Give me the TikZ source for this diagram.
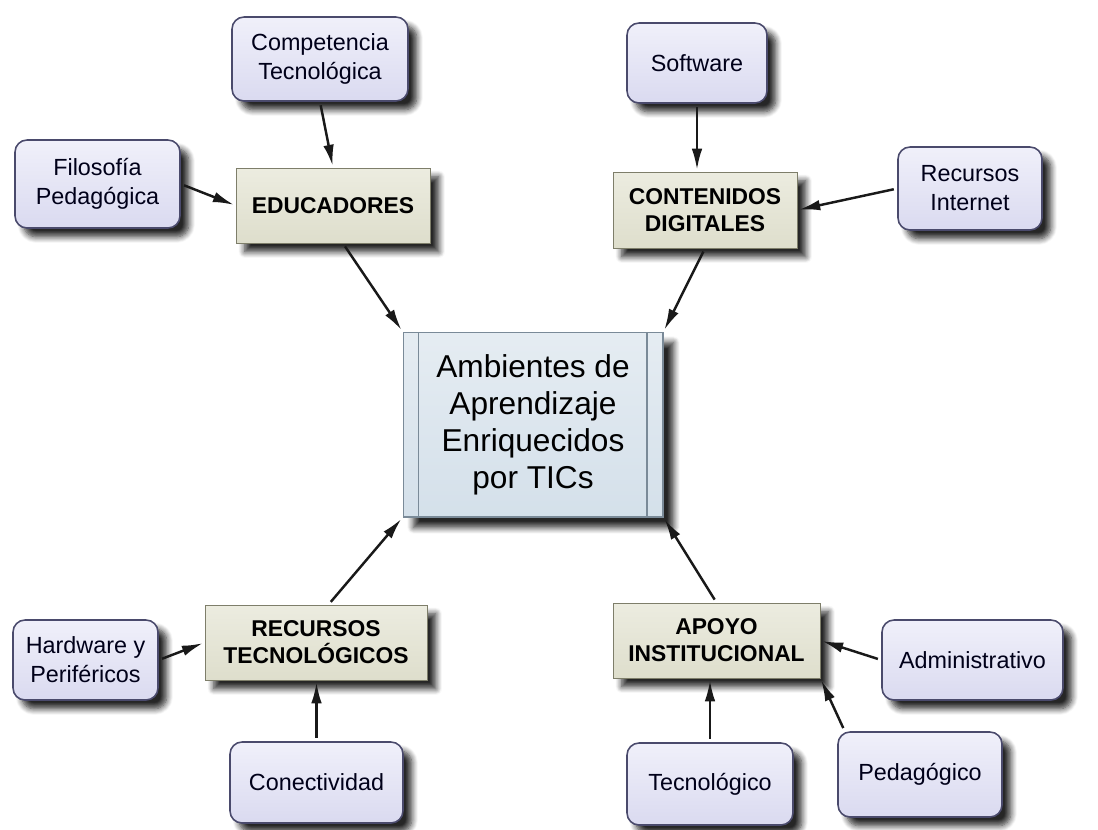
\documentclass[tikz,border=0pt]{standalone}
\usepackage{fontspec}
\setmainfont{Liberation Sans}
\usepackage{tikz}
\usetikzlibrary{arrows.meta,shadows.blur}

\definecolor{leaffill}{HTML}{DADAF0}
\definecolor{leaftop}{HTML}{F0F0FA}
\definecolor{leafline}{HTML}{4A4A6C}
\definecolor{catfill}{HTML}{DEDECC}
\definecolor{cattop}{HTML}{ECECE0}
\definecolor{catline}{HTML}{7E7E6A}
\definecolor{ambfill}{HTML}{D4E0EA}
\definecolor{ambline}{HTML}{7A8A98}

\begin{document}
\begin{tikzpicture}[x=0.02cm,y=-0.02cm,
  leaf/.style={draw=leafline, line width=0.9pt, rounded corners=0.24cm,
    top color=leaftop, bottom color=leaffill, inner sep=0pt, align=center,
    text=black!90!blue, font=\fontsize{13.3}{16.5}\selectfont,
    blur shadow={shadow xshift=5pt, shadow yshift=-5pt, shadow blur steps=8, shadow opacity=85, shadow blur radius=3.5pt}},
  cat/.style={draw=catline, line width=0.5pt, top color=cattop, bottom color=catfill,
    inner sep=0pt, align=center, font=\fontsize{13}{15.5}\selectfont\bfseries,
    blur shadow={shadow xshift=5pt, shadow yshift=-5pt, shadow blur steps=8, shadow opacity=85, shadow blur radius=3.5pt}},
  link/.style={line width=1.4pt, draw=black!90, -{Latex[length=12pt,width=6pt]}, shorten <=2pt, shorten >=1pt}]

\useasboundingbox (0,0) rectangle (1098,829);

% Central concept
\node[draw=ambline, line width=0.6pt, top color=ambfill!60, bottom color=ambfill,
  minimum width=5.2cm, minimum height=3.7cm, inner sep=0pt, align=center,
  font=\fontsize{18}{21}\selectfont,
  blur shadow={shadow xshift=6pt, shadow yshift=-6pt, shadow blur steps=8, shadow opacity=85, shadow blur radius=3.5pt},
  path picture={
    \draw[ambline] ([xshift=0.3cm]path picture bounding box.north west) -- ([xshift=0.3cm]path picture bounding box.south west);
    \draw[ambline] ([xshift=-0.32cm]path picture bounding box.north east) -- ([xshift=-0.32cm]path picture bounding box.south east);
  }] (amb) at (533,424.5) {Ambientes de\\Aprendizaje\\Enriquecidos\\por TICs};

% Categories
\node[cat, minimum width=3.88cm, minimum height=1.5cm] (edu) at (333,205.5) {EDUCADORES};
\node[cat, minimum width=3.68cm, minimum height=1.52cm] (cont) at (705,210) {CONTENIDOS\\DIGITALES};
\node[cat, minimum width=4.44cm, minimum height=1.5cm] (rtec) at (316,642.5) {RECURSOS\\TECNOLÓGICOS};
\node[cat, minimum width=4.14cm, minimum height=1.5cm] (apoyo) at (716.5,640.5) {APOYO\\INSTITUCIONAL};

% Leaves
\node[leaf, minimum width=3.52cm, minimum height=1.68cm] (comp) at (320,59) {Competencia\\Tecnológica};
\node[leaf, minimum width=3.3cm, minimum height=1.76cm] (filo) at (97.5,184) {Filosofía\\Pedagógica};
\node[leaf, minimum width=2.8cm, minimum height=1.6cm] (soft) at (697,63) {Software};
\node[leaf, minimum width=2.88cm, minimum height=1.66cm] (recint) at (970,188.5) {Recursos\\Internet};
\node[leaf, minimum width=2.9cm, minimum height=1.6cm] (hard) at (85.5,660) {Hardware y\\Periféricos};
\node[leaf, minimum width=3.46cm, minimum height=1.62cm] (conec) at (316.5,782.5) {Conectividad};
\node[leaf, minimum width=3.62cm, minimum height=1.6cm] (admin) at (972.5,660) {Administrativo};
\node[leaf, minimum width=3.32cm, minimum height=1.64cm] (tecno) at (710,784) {Tecnológico};
\node[leaf, minimum width=3.28cm, minimum height=1.7cm] (peda) at (920,774.5) {Pedagógico};

% Links to the centre
\draw[link] ([xshift=0.2cm]edu.south) -- (amb.north west);
\draw[link] (cont.south) -- (amb.north east);
\draw[link] ([xshift=0.25cm]rtec.north) -- (amb.south west);
\draw[link] (apoyo.north) -- (amb.south east);

% Links to the categories
\draw[link] (comp.south) -- (edu.north);
\draw[link] (filo.east) -- (edu.west);
\draw[link] (soft.south) -- (soft.south |- cont.north);
\draw[link] (recint.west) -- (cont.east);
\draw[link] (hard.east) -- (rtec.west);
\draw[link] (conec.north) -- (conec.north |- rtec.south);
\draw[link] (admin.west) -- (apoyo.east);
\draw[link] (tecno.north) -- (tecno.north |- apoyo.south);
\draw[link] ([xshift=0.15cm]peda.north west) -- (apoyo.south east);

\end{tikzpicture}
\end{document}
